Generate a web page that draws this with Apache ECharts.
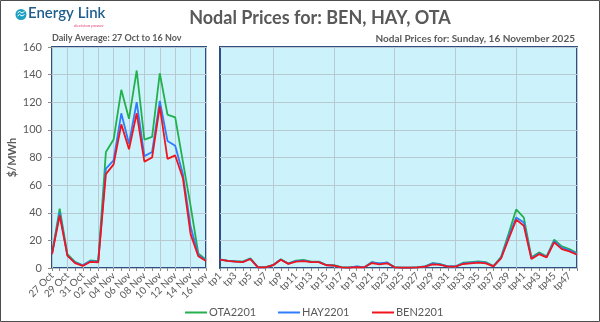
<!DOCTYPE html>
<html>
<head>
<meta charset="utf-8">
<script src="https://cdn.jsdelivr.net/npm/echarts@6/dist/echarts.min.js"></script>
<style>html,body{margin:0;padding:0;background:#fff;}#c{width:600px;height:322px;}</style>
</head>
<body>
<div id="c"></div>
<script>
const dayLabels = ['27 Oct','28 Oct','29 Oct','30 Oct','31 Oct','01 Nov','02 Nov','03 Nov','04 Nov','05 Nov','06 Nov','07 Nov','08 Nov','09 Nov','10 Nov','11 Nov','12 Nov','13 Nov','14 Nov','15 Nov','16 Nov'];
const dailyOTA = [10.5, 43, 10, 4.5, 2, 5.5, 5, 84, 93, 129, 108, 143, 93, 95, 141, 111, 109, 77, 45, 10.5, 6];
const dailyHAY = [10, 40, 9, 4, 2, 5, 4.5, 72, 78, 112, 90, 120, 81, 84, 121, 92, 88.5, 68, 30, 9.5, 5.5];
const dailyBEN = [10, 38, 9, 3.5, 1.5, 4.5, 4, 68, 75, 104, 86, 112, 77, 80, 117, 79, 81.5, 65, 24.5, 8.5, 5];

const tpLabels = ['tp1','tp2','tp3','tp4','tp5','tp6','tp7','tp8','tp9','tp10','tp11','tp12','tp13','tp14','tp15','tp16','tp17','tp18','tp19','tp20','tp21','tp22','tp23','tp24','tp25','tp26','tp27','tp28','tp29','tp30','tp31','tp32','tp33','tp34','tp35','tp36','tp37','tp38','tp39','tp40','tp41','tp42','tp43','tp44','tp45','tp46','tp47','tp48'];
const halfOTA = [6.3, 5.4, 5, 4.6, 7, 0.6, 0.6, 2.2, 6.3, 3.3, 5.3, 5.8, 4.6, 4.6, 2.2, 2, 0.6, 0.4, 0.9, 0.6, 4.3, 3.2, 4, 0.6, 0.3, 0.3, 0.6, 1.2, 3.6, 2.9, 1.2, 1.2, 3.8, 4.3, 4.8, 4.3, 1.4, 8, 25, 42.5, 36.5, 7.7, 11.3, 8.4, 20.5, 15.7, 13.7, 10.8];
const halfHAY = [6.1, 5.2, 4.7, 4.4, 6.7, 0.5, 0.5, 2.1, 6.1, 3.1, 5, 5.4, 4.4, 4.4, 2.1, 1.8, 0.5, 0.3, 1.2, 0.5, 4, 3.4, 3.9, 0.5, 0.2, 0.2, 0.5, 1.1, 3.4, 2.6, 1.1, 1.1, 3.3, 3.8, 4.3, 3.8, 1.3, 7.3, 23, 36.6, 33, 7, 10.5, 8, 19.5, 14.5, 12.8, 10.2];
const halfBEN = [6, 5.1, 4.6, 4.3, 6.5, 0.5, 0.5, 2, 6, 3, 4.6, 5, 4.3, 4.3, 2, 1.7, 0.5, 0.3, 0.7, 0.5, 3.6, 2.6, 3.4, 0.5, 0.2, 0.2, 0.5, 1, 2.6, 2.2, 1, 1, 2.9, 3.4, 3.9, 3.4, 1.2, 7, 21, 35, 30.6, 6.5, 10, 7.7, 18.5, 13.7, 12, 9.6];
const yTicks = {min: 0, max: 160, interval: 20};

const C_OTA = '#22B14C', C_HAY = '#2F7DFF', C_BEN = '#F0141E';
const FONT = 'Lato, "Liberation Sans", sans-serif';
const GRAY = '#595959';
const chart = echarts.init(document.getElementById('c'), null, {renderer: 'canvas'});

function lineSeries(name, data, color, idx) {
  return {
    name: name, type: 'line', data: data, xAxisIndex: idx, yAxisIndex: idx,
    symbol: 'none', smooth: false,
    lineStyle: {color: color, width: 1.8}, itemStyle: {color: color},
    emphasis: {disabled: true}, animation: false
  };
}

const gridStyle = {show: true, backgroundColor: '#CCF3FB', borderColor: '#2E4F82', borderWidth: 2, containLabel: false};

const option = {
  animation: false,
  backgroundColor: '#ffffff',
  textStyle: {fontFamily: FONT},
  title: [
    {text: 'Nodal Prices for: BEN, HAY, OTA', left: 320, top: 9, textAlign: 'center', padding: 0,
     textStyle: {fontFamily: FONT, fontSize: 18, fontWeight: 'bold', color: GRAY}},
    {text: 'Daily Average: 27 Oct to 16 Nov', left: 52, top: 34, padding: 0,
     textStyle: {fontFamily: FONT, fontSize: 9, fontWeight: 'bold', color: GRAY}},
    {text: 'Nodal Prices for: Sunday, 16 November 2025', right: 25, top: 34, padding: 0,
     textStyle: {fontFamily: FONT, fontSize: 10, fontWeight: 'bold', color: GRAY}}
  ],
  legend: [
    {data: ['OTA2201'], left: 180, top: 302, itemWidth: 22, itemHeight: 12, itemGap: 0, icon: 'path://M0,5 L22,5 L22,7 L0,7 Z',
     textStyle: {fontFamily: FONT, fontSize: 11, color: GRAY, padding: [0,0,0,-3]}},
    {data: ['HAY2201'], left: 273, top: 302, itemWidth: 22, itemHeight: 12, icon: 'path://M0,5 L22,5 L22,7 L0,7 Z',
     textStyle: {fontFamily: FONT, fontSize: 11, color: GRAY, padding: [0,0,0,-3]}},
    {data: ['BEN2201'], left: 367, top: 302, itemWidth: 22, itemHeight: 12, icon: 'path://M0,5 L22,5 L22,7 L0,7 Z',
     textStyle: {fontFamily: FONT, fontSize: 11, color: GRAY, padding: [0,0,0,-3]}}
  ],
  grid: [
    Object.assign({left: 52, top: 47, width: 154, height: 221}, gridStyle),
    Object.assign({left: 220, top: 47, width: 357, height: 221}, gridStyle)
  ],
  xAxis: [
    {type: 'category', gridIndex: 0, data: dayLabels, boundaryGap: false,
     axisLine: {show: false}, axisTick: {show: true, interval: 0, length: 3, lineStyle: {color: '#8a8a8a'}},
     axisLabel: {interval: 1, rotate: 45, fontSize: 10, color: GRAY, fontFamily: FONT, margin: 6},
     splitLine: {show: true, interval: 1, lineStyle: {color: '#B9C9D2', width: 1}}},
    {type: 'category', gridIndex: 1, data: tpLabels, boundaryGap: false,
     axisLine: {show: false}, axisTick: {show: true, interval: 0, length: 3, lineStyle: {color: '#8a8a8a'}},
     axisLabel: {interval: 1, rotate: 45, fontSize: 10, color: GRAY, fontFamily: FONT, margin: 6},
     splitLine: {show: true, interval: function (i) { return i % 8 === 7; }, lineStyle: {color: '#B9C9D2', width: 1}}}
  ],
  yAxis: [
    {type: 'value', gridIndex: 0, min: yTicks.min, max: yTicks.max, interval: yTicks.interval,
     name: '$/MWh', nameLocation: 'middle', nameGap: 34, nameRotate: 90,
     nameTextStyle: {fontFamily: FONT, fontSize: 11, fontWeight: 'bold', color: GRAY},
     axisLine: {show: false}, axisTick: {show: true, length: 4, lineStyle: {color: '#8a8a8a'}},
     axisLabel: {fontSize: 11, color: GRAY, fontFamily: FONT, margin: 10},
     splitLine: {show: true, lineStyle: {color: '#B9C9D2', width: 1}}},
    {type: 'value', gridIndex: 1, min: yTicks.min, max: yTicks.max, interval: yTicks.interval,
     axisLine: {show: false}, axisTick: {show: false}, axisLabel: {show: false},
     splitLine: {show: true, lineStyle: {color: '#B9C9D2', width: 1}}}
  ],
  series: [
    lineSeries('OTA2201', dailyOTA, C_OTA, 0),
    lineSeries('HAY2201', dailyHAY, C_HAY, 0),
    lineSeries('BEN2201', dailyBEN, C_BEN, 0),
    lineSeries('OTA2201', halfOTA, C_OTA, 1),
    lineSeries('HAY2201', halfHAY, C_HAY, 1),
    lineSeries('BEN2201', halfBEN, C_BEN, 1)
  ],
  graphic: [
    {type: 'rect', shape: {x: 0.5, y: 0.5, width: 599, height: 321}, style: {fill: 'none', stroke: '#4d4d4d', lineWidth: 1}, silent: true},
    {type: 'circle', shape: {cx: 21, cy: 14.5, r: 5.5}, style: {fill: '#1BA0C4'}, silent: true},
    {type: 'polyline', shape: {points: [[17.5,13],[19.5,11.5],[22,13],[24.5,11.5]]}, style: {stroke: '#fff', lineWidth: 1, fill: 'none'}, silent: true},
    {type: 'polyline', shape: {points: [[17.5,16],[19.5,14.5],[22,16],[24.5,14.5]]}, style: {stroke: '#fff', lineWidth: 1, fill: 'none'}, silent: true},
    {type: 'text', left: 28, top: 6, style: {text: 'Energy Link', font: '600 15px Lato, sans-serif', fill: '#1D5E8E'}, silent: true},
    {type: 'text', left: 74, top: 23, style: {text: 'decision power', font: '4.5px Lato, sans-serif', fill: '#E0457B'}, silent: true}
  ]
};
chart.setOption(option);
</script>
</body>
</html>
